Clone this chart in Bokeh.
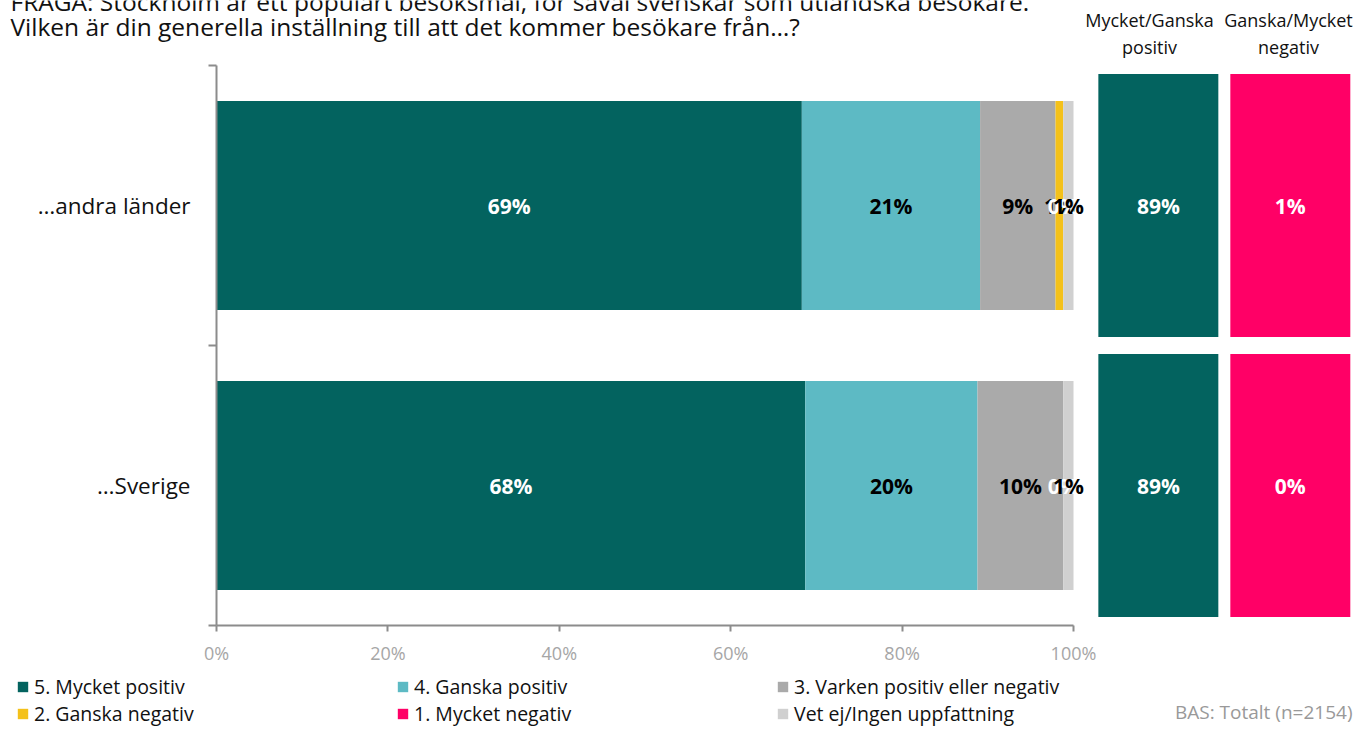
from bokeh.plotting import figure
from bokeh.models import (Range1d, FixedTicker, Label, Legend, LegendItem,
                          ColumnDataSource, LinearAxis)
from bokeh.embed import file_html
from bokeh.resources import INLINE
from bokeh.core.properties import value

# ---------------- data ----------------
categories = ["…andra länder", "…Sverige"]
series = ["5. Mycket positiv", "4. Ganska positiv", "3. Varken positiv eller negativ",
          "2. Ganska negativ", "1. Mycket negativ", "Vet ej/Ingen uppfattning"]
andra = [68.3, 20.8, 8.8, 0.9, 0.0, 1.2]
sverige = [68.7, 20.1, 10.0, 0.0, 0.0, 1.2]
andra_labels = ["69%", "21%", "9%", "1%", "0%", "1%"]
sverige_labels = ["68%", "20%", "10%", "", "0%", "1%"]
pos_total = [89, 89]
neg_total = [1, 0]
x_ticks = [0, 20, 40, 60, 80, 100]
title_lines = ["FRÅGA: Stockholm är ett populärt besöksmål, för såväl svenskar som utländska besökare.",
               "Vilken är din generella inställning till att det kommer besökare från…?"]
pos_header = ["Mycket/Ganska", "positiv"]
neg_header = ["Ganska/Mycket", "negativ"]
base_note = "BAS: Totalt (n=2154)"

# ---------------- style / layout ----------------
colors = ["#03635F", "#5DBAC4", "#AAAAAA", "#F4C11A", "#FF0066", "#D0D0D0"]
label_colors = ["white", "black", "black", "black", "white", "black"]
FONT = "Open Sans"
POS_BOX = (102.9, 116.9)
NEG_BOX = (118.3, 132.3)
BAR_H = 0.746
BOX_H = 0.94
W, H = 1355, 727
X0, PX_PER_PCT = 216, 8.57      # pixel of 0 %, pixels per percent
Y_TOP, PX_PER_CAT = 65, 280     # pixel of top of category area, pixels per category


def xdat(px):
    return (px - X0) / PX_PER_PCT


def ydat(py):
    return 2 + (Y_TOP - py) / PX_PER_CAT


p = figure(width=W, height=H, output_backend="svg", toolbar_location=None,
           x_range=Range1d(xdat(0), xdat(W)), y_range=Range1d(ydat(H), ydat(0)),
           min_border=0, x_axis_location=None, y_axis_location=None)
p.outline_line_color = None
p.xgrid.visible = False
p.ygrid.visible = False
p.background_fill_color = "white"
p.border_fill_color = "white"

n = len(categories)
ys = [n - i - 0.5 for i in range(n)]
rows = [andra, sverige]
row_labels = [andra_labels, sverige_labels]

# stacked bars
renderers = []
lab_x, lab_y, lab_t, lab_c = [], [], [], []
lefts = [0.0] * n
for s, name in enumerate(series):
    vals = [rows[c][s] for c in range(n)]
    left = list(lefts)
    right = [left[c] + vals[c] for c in range(n)]
    r = p.hbar(y=ys, left=left, right=right, height=BAR_H,
               fill_color=colors[s], line_color=None)
    renderers.append(r)
    for c in range(n):
        if row_labels[c][s]:
            lab_x.append(left[c] + vals[c] / 2)
            lab_y.append(ys[c])
            lab_t.append(row_labels[c][s])
            lab_c.append(label_colors[s])
    lefts = right

p.text(x="x", y="y", text="t", text_color="c",
       source=ColumnDataSource(dict(x=lab_x, y=lab_y, t=lab_t, c=lab_c)),
       text_align="center", text_baseline="middle", text_font=value(FONT),
       text_font_size="21px", text_font_style="bold")

# summary boxes
p.hbar(y=ys, left=POS_BOX[0], right=POS_BOX[1], height=BOX_H,
       fill_color=colors[0], line_color=None)
p.hbar(y=ys, left=NEG_BOX[0], right=NEG_BOX[1], height=BOX_H,
       fill_color=colors[4], line_color=None)
p.text(x=[(POS_BOX[0] + POS_BOX[1]) / 2] * n, y=ys, text=[f"{v}%" for v in pos_total],
       text_color="white", text_align="center", text_baseline="middle",
       text_font=value(FONT), text_font_size="21px", text_font_style="bold")
p.text(x=[(NEG_BOX[0] + NEG_BOX[1]) / 2] * n, y=ys, text=[f"{v}%" for v in neg_total],
       text_color="white", text_align="center", text_baseline="middle",
       text_font=value(FONT), text_font_size="21px", text_font_style="bold")

# axes (drawn at fixed locations inside the full-canvas frame)
AX = "#8C8C8C"
xax = LinearAxis(bounds=(0, 100), fixed_location=0, ticker=FixedTicker(ticks=x_ticks),
                 major_label_overrides={t: f"{t}%" for t in x_ticks})
xax.axis_line_color = AX
xax.axis_line_width = 2
xax.major_tick_line_color = AX
xax.major_tick_line_width = 2
xax.major_tick_in = 0
xax.major_tick_out = 6
xax.minor_tick_line_color = None
xax.major_label_text_color = "#A6A6A6"
xax.major_label_text_font = FONT
xax.major_label_text_font_size = "18px"
xax.major_label_standoff = 9
p.add_layout(xax, "below")

yax = LinearAxis(bounds=(0, 2), fixed_location=0,
                 ticker=FixedTicker(ticks=ys, minor_ticks=[0, 1, 2]),
                 major_label_overrides={y: c for y, c in zip(ys, categories)})
yax.axis_line_color = AX
yax.axis_line_width = 2
yax.major_tick_line_color = None
yax.major_tick_in = 0
yax.major_tick_out = 0
yax.minor_tick_line_color = AX
yax.minor_tick_line_width = 2
yax.minor_tick_in = 0
yax.minor_tick_out = 8
yax.major_label_text_color = "#111111"
yax.major_label_text_font = FONT
yax.major_label_text_font_size = "22.5px"
yax.major_label_standoff = 18
yax.major_label_orientation = "horizontal"
p.add_layout(yax, "left")

# titles and headers
for line, py in zip(title_lines, [1, 26]):
    p.add_layout(Label(x=xdat(10), y=ydat(py), text=line, text_font=FONT,
                       text_font_size="24.5px", text_color="#111111",
                       text_baseline="alphabetic", text_align="left"))
for hdr, cx in [(pos_header, xdat(1149)), (neg_header, xdat(1288))]:
    for line, py in zip(hdr, [19, 46]):
        p.add_layout(Label(x=cx, y=ydat(py), text=line, text_font=FONT,
                           text_font_size="18px", text_color="#111111",
                           text_baseline="middle", text_align="center"))
p.add_layout(Label(x=xdat(1352), y=ydat(711), text=base_note, text_font=FONT,
                   text_font_size="19px", text_color="#999999",
                   text_baseline="middle", text_align="right"))

# legends: three columns of two items
col_x = [16, 396, 776]
for k in range(3):
    items = [LegendItem(label=series[k], renderers=[renderers[k]]),
             LegendItem(label=series[k + 3], renderers=[renderers[k + 3]])]
    lg = Legend(items=items, location=(col_x[k], 0),
                orientation="vertical", padding=0, margin=0, spacing=0,
                glyph_width=13, glyph_height=13, label_standoff=5,
                label_height=18, label_text_font=FONT,
                label_text_font_size="19.5px", label_text_color="#111111",
                background_fill_alpha=0, border_line_color=None)
    p.add_layout(lg, "center")

open("out.html", "w").write(file_html(p, INLINE))
